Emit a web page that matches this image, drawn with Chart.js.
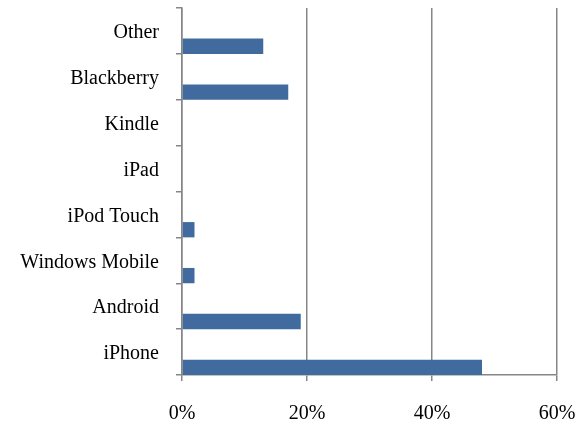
<!DOCTYPE html>
<html>
<head>
<meta charset="utf-8">
<script src="https://cdn.jsdelivr.net/npm/chart.js@4"></script>
<style>
  html, body { margin: 0; padding: 0; background: #fff; }
  #wrap { width: 581px; height: 424px; position: relative; }
</style>
</head>
<body>
<div id="wrap"><canvas id="c" width="581" height="424"></canvas></div>
<script>
// Categories, top to bottom as drawn
const categories = ['Other', 'Blackberry', 'Kindle', 'iPad', 'iPod Touch', 'Windows Mobile', 'Android', 'iPhone'];
// Share of devices (%)
const shareValues = [13, 17, 0, 0, 2, 2, 19, 48];
// Two empty series that only reserve the upper part of each band
const emptySeriesA = [null, null, null, null, null, null, null, null];
const emptySeriesB = [null, null, null, null, null, null, null, null];
// Axis ticks
const xTickValues = [0, 20, 40, 60];

const FONT = { family: "'Liberation Serif', 'Times New Roman', serif", size: 20 };
const LINE = '#868686';
const BAR = '#416B9F';

function noPad(s) {
  s.paddingTop = 0; s.paddingBottom = 0; s.paddingLeft = 0; s.paddingRight = 0;
}

new Chart(document.getElementById('c'), {
  type: 'bar',
  data: {
    labels: categories,
    datasets: [
      { label: 'A', data: emptySeriesA, backgroundColor: BAR },
      { label: 'B', data: emptySeriesB, backgroundColor: BAR },
      { label: 'Share', data: shareValues, backgroundColor: BAR, borderWidth: 0, inflateAmount: 0 }
    ]
  },
  options: {
    indexAxis: 'y',
    responsive: false,
    animation: false,
    layout: { padding: { top: 8, right: 24, left: 0, bottom: 0 } },
    datasets: { bar: { categoryPercentage: 1, barPercentage: 1 } },
    plugins: { legend: { display: false }, tooltip: { enabled: false } },
    scales: {
      x: {
        min: xTickValues[0],
        max: xTickValues[xTickValues.length - 1],
        afterBuildTicks: (s) => { s.ticks = xTickValues.map(v => ({ value: v })); },
        afterFit: (s) => { s.height = 49; noPad(s); },
        border: { color: LINE, width: 1.5 },
        grid: { color: LINE, lineWidth: 1.5, tickLength: 6, drawTicks: true },
        ticks: { color: '#000', font: FONT, padding: 21, maxRotation: 0, callback: (v) => v + '%' }
      },
      y: {
        afterFit: (s) => { s.width = 182; noPad(s); },
        border: { color: LINE, width: 1.5 },
        grid: { display: true, drawOnChartArea: false, color: LINE, lineWidth: 1.5, tickLength: 6, offset: true },
        ticks: { color: '#000', font: FONT, padding: 17, autoSkip: false, labelOffset: 2 }
      }
    }
  }
});
</script>
</body>
</html>
